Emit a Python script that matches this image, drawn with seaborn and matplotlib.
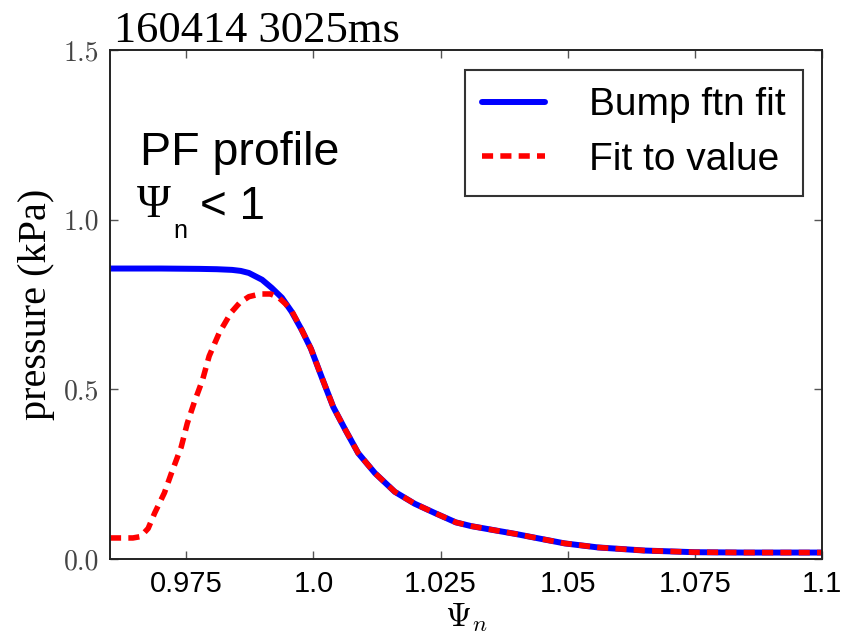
import numpy as np
import pandas as pd
import matplotlib
matplotlib.use("Agg")
import matplotlib.pyplot as plt
import seaborn as sns

# ---- data ----
bump_psi = [0.960, 0.970, 0.9776, 0.9810, 0.9840, 0.9857, 0.9873, 0.9899, 0.9918,
            0.9938, 0.9957, 0.9977, 0.9995, 1.0016, 1.0039, 1.0063, 1.0088,
            1.0121, 1.0160, 1.0199, 1.0238, 1.0280, 1.0310, 1.0355, 1.0397,
            1.0445, 1.0494, 1.0560, 1.0650, 1.0750, 1.0850, 1.1000]
bump_p = [0.856, 0.856, 0.855, 0.854, 0.852, 0.849, 0.843, 0.823, 0.799,
          0.770, 0.729, 0.675, 0.620, 0.537, 0.448, 0.380, 0.312,
          0.253, 0.198, 0.163, 0.136, 0.108, 0.097, 0.085, 0.074,
          0.060, 0.046, 0.034, 0.025, 0.020, 0.019, 0.019]

fit_psi = [0.960, 0.9645, 0.9660, 0.9675, 0.9688, 0.9707, 0.9721, 0.9740, 0.9752,
           0.9766, 0.9782, 0.9795, 0.9815, 0.9838, 0.9855, 0.9873, 0.9895, 0.9916,
           0.9932, 0.9945, 0.9957, 0.9977, 0.9995, 1.0016, 1.0039, 1.0063, 1.0088,
           1.0121, 1.0160, 1.0199, 1.0238, 1.0280, 1.0310, 1.0355, 1.0397, 1.0445,
           1.0494, 1.0560, 1.0650, 1.0750, 1.0850, 1.1000]
fit_p = [0.062, 0.062, 0.066, 0.090, 0.136, 0.195, 0.254, 0.330, 0.400,
         0.463, 0.528, 0.598, 0.667, 0.726, 0.755, 0.773, 0.781, 0.781,
         0.770, 0.752, 0.732, 0.675, 0.620, 0.537, 0.448, 0.380, 0.312,
         0.253, 0.198, 0.163, 0.136, 0.108, 0.097, 0.085, 0.074, 0.060,
         0.046, 0.034, 0.025, 0.020, 0.019, 0.019]

x_ticks = [0.975, 1.0, 1.025, 1.05, 1.075, 1.1]
x_tick_labels = ["0.975", "1.0", "1.025", "1.05", "1.075", "1.1"]
y_ticks = [0.0, 0.5, 1.0, 1.5]
y_tick_labels = ["0.0", "0.5", "1.0", "1.5"]

df_bump = pd.DataFrame({"psi": bump_psi, "p": bump_p})
df_fit = pd.DataFrame({"psi": fit_psi, "p": fit_p})

sns.set_theme(style="white")
plt.rcParams["font.family"] = ["Liberation Sans", "DejaVu Sans"]
plt.rcParams["mathtext.fontset"] = "cm"
plt.rcParams["axes.formatter.use_mathtext"] = True
plt.rcParams["text.color"] = "black"
plt.rcParams["axes.labelcolor"] = "black"
plt.rcParams["xtick.color"] = "black"
plt.rcParams["ytick.color"] = "black"

fig = plt.figure(figsize=(8.42, 6.35), dpi=100)
ax = fig.add_axes([110 / 842, 1 - 559 / 635, 712 / 842, 509 / 635])

sns.lineplot(data=df_bump, x="psi", y="p", ax=ax, color="#0000ff", lw=4.3,
             label="Bump ftn fit", estimator=None, sort=True)
sns.lineplot(data=df_fit, x="psi", y="p", ax=ax, color="#ff0000", lw=4.0,
             linestyle=(0, (2.0, 1.3)), label="Fit to value",
             estimator=None, sort=True)
for ln in ax.lines:
    ln.set_solid_joinstyle("round")
    ln.set_dash_joinstyle("round")

ax.set_xlim(0.96, 1.1)
ax.set_ylim(0, 1.5)
ax.set_xticks(x_ticks)
ax.set_xticklabels(x_tick_labels, fontsize=21, family=["Liberation Sans", "DejaVu Sans"],
                   color="black")
ax.set_yticks(y_ticks)
ax.set_yticklabels(y_tick_labels, fontsize=20, family=["cmr10", "DejaVu Serif"],
                   color="#444444")
ax.tick_params(axis="both", which="major", direction="in", length=6, width=1,
               color="#555555", top=True, right=True, bottom=True, left=True)
ax.tick_params(axis="x", pad=8)
ax.tick_params(axis="y", pad=8)
for s in ax.spines.values():
    s.set_color("#222222")
    s.set_linewidth(1.4)

ax.set_ylabel("pressure (kPa)", fontsize=29, family=["Liberation Serif", "DejaVu Serif"],
              labelpad=6, color="black")
ax.set_xlabel(r"$\Psi_n$", fontsize=24, labelpad=2, color="black")
ax.set_title("160414 3025ms", loc="left", fontsize=32, color="black",
             family=["Liberation Serif", "DejaVu Serif"], pad=6, x=0.006)

leg = ax.legend(loc="upper right", bbox_to_anchor=(0.974, 0.961), fontsize=28,
                frameon=True, fancybox=False, framealpha=1, edgecolor="#333333",
                handlelength=1.62, handletextpad=1.13, labelspacing=0.48,
                borderpad=0.45, borderaxespad=0)
leg.get_frame().set_linewidth(1.5)
for t in leg.get_texts():
    t.set_color("black")

# annotation text
ax.text(140 / 842, 1 - 165 / 635, "PF profile", transform=fig.transFigure,
        fontsize=33.5, family=["Liberation Sans", "DejaVu Sans"], va="baseline",
        color="black")
ax.text(137 / 842, 1 - 217 / 635, "Ψ", transform=fig.transFigure,
        fontsize=33, family=["Liberation Serif", "DejaVu Serif"], va="baseline",
        color="black")
ax.text(173 / 842, 1 - 238 / 635, "n", transform=fig.transFigure,
        fontsize=18, family=["Liberation Sans", "DejaVu Sans"], va="baseline",
        color="black")
ax.text(200 / 842, 1 - 219 / 635, "< 1", transform=fig.transFigure,
        fontsize=33, family=["Liberation Sans", "DejaVu Sans"], va="baseline",
        color="black")

fig.savefig("out.png", dpi=100)
